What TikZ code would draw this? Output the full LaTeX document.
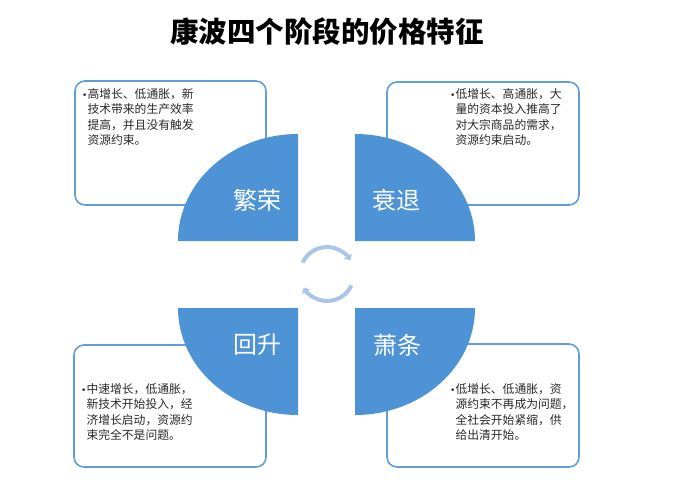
\documentclass[tikz,border=0pt]{standalone}
\usepackage{fontspec}
\setmainfont{Noto Sans CJK SC}
\newfontfamily\dotfont{DejaVu Sans}
\usepackage{tikz}
\usetikzlibrary{arrows.meta}
\definecolor{wedgeblue}{RGB}{77,147,213}
\definecolor{boxblue}{RGB}{95,158,218}
\definecolor{cycblue}{RGB}{170,197,232}
\definecolor{txtgray}{RGB}{40,40,40}
\newcommand{\bdot}{{\dotfont\fontsize{9}{9}\selectfont •}}
\newcommand{\bgap}{\hphantom{\bdot}}
\tikzset{
	infobox/.style={draw=boxblue, line width=1.6pt, rounded corners=10pt},
	infotext/.style={anchor=north west, inner sep=0pt, align=left, text=txtgray, font=\fontsize{11.8}{15.5}\selectfont},
	phase/.style={text=white, inner sep=0pt, font=\fontsize{24}{24}\selectfont},
	cyc/.style={draw=cycblue, line width=4pt, -{Triangle[length=5pt,width=9pt]}}
}
\begin{document}
\begin{tikzpicture}[x=1pt,y=-1pt]
		\useasboundingbox (0,0) rectangle (685,483);
		\node[font=\fontsize{28.5}{28.5}\selectfont\bfseries] (title) at (327,32) {康波四个阶段的价格特征};
		% boxes behind the quarter discs
		\draw[infobox] (75,81) rectangle (266,205);
		\draw[infobox] (387,82) rectangle (579,205);
		\draw[infobox] (74,345) rectangle (266,467);
		\draw[infobox] (387,344) rectangle (579,467);
		% quarter discs
		\fill[wedgeblue] (298,241) -- (178,241) arc[start angle=180, end angle=270, x radius=120, y radius=107] -- cycle;
		\fill[wedgeblue] (355,241) -- (355,134) arc[start angle=270, end angle=360, x radius=120, y radius=107] -- cycle;
		\fill[wedgeblue] (298,308) -- (178,308) arc[start angle=180, end angle=90, x radius=120, y radius=107] -- cycle;
		\fill[wedgeblue] (355,308) -- (475,308) arc[start angle=0, end angle=90, x radius=120, y radius=107] -- cycle;
		\node[phase] (boom) at (257,200) {繁荣};
		\node[phase] (recess) at (396,200) {衰退};
		\node[phase] (recov) at (257,345) {回升};
		\node[phase] (depr) at (397,345) {萧条};
		% cycle arrows
		\draw[cyc] (327,274) ++(205:27) arc[start angle=205, end angle=330, radius=27];
		\draw[cyc] (327,274) ++(25:27) arc[start angle=25, end angle=150, radius=27];
		% texts
		\node[infotext] (tboom) at (82,88) {\bdot 高增长、低通胀，新\\ \bgap 技术带来的生产效率\\ \bgap 提高，并且没有触发\\ \bgap 资源约束。};
		\node[infotext] (trecess) at (450,88) {\bdot 低增长、高通胀，大\\ \bgap 量的资本投入推高了\\ \bgap 对大宗商品的需求，\\ \bgap 资源约束启动。};
		\node[infotext] (trecov) at (81,383) {\bdot 中速增长，低通胀，\\ \bgap 新技术开始投入，经\\ \bgap 济增长启动，资源约\\ \bgap 束完全不是问题。};
		\node[infotext] (tdepr) at (450,383) {\bdot 低增长、低通胀，资\\ \bgap 源约束不再成为问题，\\ \bgap 全社会开始紧缩，供\\ \bgap 给出清开始。};
	\end{tikzpicture}
\end{document}
